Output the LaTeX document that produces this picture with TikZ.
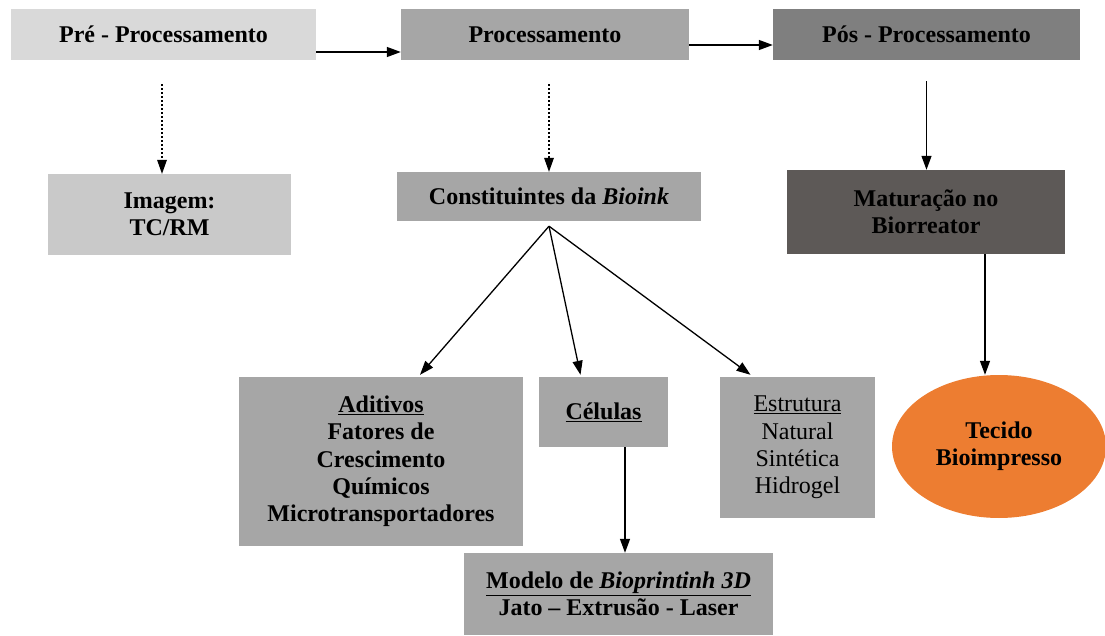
\documentclass[tikz,border=0pt]{standalone}
\usepackage{fontspec}
\setmainfont{Liberation Serif}
\usetikzlibrary{arrows.meta,calc,shapes.geometric}
\definecolor{cPre}{HTML}{D9D9D9}
\definecolor{cImg}{HTML}{C9C9C9}
\definecolor{cMid}{HTML}{A6A6A6}
\definecolor{cPos}{HTML}{7F7F7F}
\definecolor{cMat}{HTML}{5D5957}
\definecolor{cTec}{HTML}{ED7D31}
\tikzset{
  box/.style={rectangle, inner sep=0pt, align=center, font=\fontsize{24}{27.3}\selectfont},
  arr/.style={line width=1.3pt, -{Triangle[width=10pt,length=14pt]}},
  dotarr/.style={line width=2.2pt, dash pattern=on 2pt off 2pt, -{Triangle[width=10pt,length=14pt,line width=0pt]}}
}
\begin{document}
\begin{tikzpicture}[x=1pt,y=-1pt]
\useasboundingbox (0,0) rectangle (1105,636);
% top row
\node[box, fill=cPre, minimum width=305pt, minimum height=51pt] (pre) at (163.5,34.5) {\textbf{Pré - Processamento}};
\node[box, fill=cMid, minimum width=288pt, minimum height=51pt] (proc) at (545,34.5) {\textbf{Processamento}};
\node[box, fill=cPos, minimum width=307pt, minimum height=51pt] (pos) at (926.5,34.5) {\textbf{Pós - Processamento}};
% second row
\node[box, fill=cImg, minimum width=243pt, minimum height=81pt] (img) at (169.5,214.5) {\textbf{Imagem:}\\\textbf{TC/RM}};
\node[box, fill=cMid, minimum width=304pt, minimum height=49pt] (cons) at (549,196.5) {\textbf{Constituintes da \textit{Bioink}}};
\node[box, fill=cMat, minimum width=278pt, minimum height=84pt] (mat) at (926,212) {\textbf{Maturação no}\\\textbf{Biorreator}};
% third row
\node[box, fill=cMid, minimum width=284pt, minimum height=169pt] (adit) at (381,461.5) {\textbf{\underline{Aditivos}}\\\textbf{Fatores de}\\\textbf{Crescimento}\\\textbf{Químicos}\\\textbf{Microtransportadores}};
\node[box, fill=cMid, minimum width=129pt, minimum height=70pt] (cel) at (603.5,412) {\textbf{\underline{Células}}};
\node[box, fill=cMid, minimum width=155pt, minimum height=141pt] (est) at (797.5,447.5) {\underline{Estrutura}\\Natural\\Sintética\\Hidrogel};
\node[box, ellipse, fill=cTec, minimum width=214pt, minimum height=143pt] (tec) at (999,446.5) {\textbf{Tecido}\\\textbf{Bioimpresso}};
\node[box, fill=cMid, minimum width=309pt, minimum height=82pt] (mod) at (618.5,594) {\textbf{\underline{Modelo de \textit{Bioprintinh 3D}}}\\\textbf{Jato – Extrusão - Laser}};
% connectors
\draw[arr] ([yshift=-17.5pt]pre.east) -- ([yshift=-17.5pt]proc.west);
\draw[arr] ([yshift=-10.5pt]proc.east) -- ([yshift=-10.5pt]pos.west);
\coordinate (d1) at ($(pre.south)+(-1.5,24)$);
\draw[dotarr] (d1) -- (d1 |- img.north);
\coordinate (d2) at ($(cons.north |- proc.south)+(0,24)$);
\draw[dotarr] (d2) -- (cons.north);
\coordinate (d3) at ($(pos.south)+(0,21)$);
\draw[arr] (d3) -- (d3 |- mat.north);
\draw[arr] ([xshift=59pt]mat.south) -- ([xshift=59pt]mat.south |- tec.north);
\coordinate (fan) at ($(cons.south)+(0,5)$);
\draw[arr] (fan) -- ([xshift=39pt,yshift=2pt]adit.north);
\draw[arr] (fan) -- ([xshift=-23pt,yshift=2pt]cel.north);
\draw[arr] (fan) -- ([xshift=-47pt,yshift=2pt]est.north);
\draw[arr] ([xshift=21.5pt]cel.south) -- ([xshift=21.5pt]cel.south |- mod.north);
\end{tikzpicture}
\end{document}
